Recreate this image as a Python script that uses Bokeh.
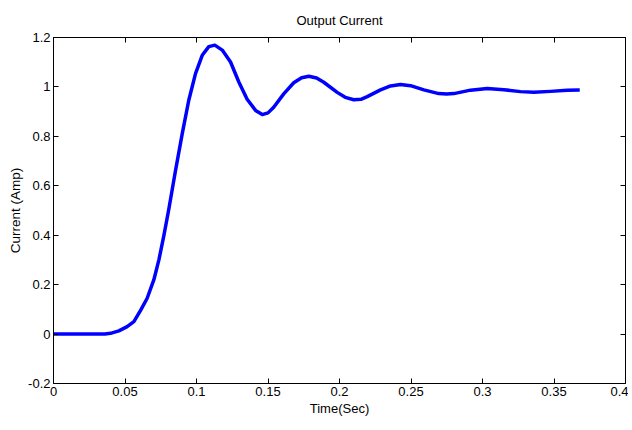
from bokeh.plotting import figure
from bokeh.layouts import row
from bokeh.models import LinearAxis, FixedTicker, Range1d, Spacer
from bokeh.embed import file_html
from bokeh.resources import INLINE

# Data
time_s = [0.0, 0.01, 0.02, 0.03, 0.036, 0.0399, 0.0457, 0.0515, 0.0562, 0.0608,
          0.0655, 0.0702, 0.0737, 0.0771, 0.0806, 0.0853, 0.090, 0.0946, 0.0993,
          0.104, 0.1086, 0.1128, 0.118, 0.1238, 0.1296, 0.1354, 0.1413, 0.146,
          0.150, 0.154, 0.161, 0.168, 0.1735, 0.1786, 0.184, 0.189, 0.1984, 0.204,
          0.210, 0.215, 0.2194, 0.2287, 0.2357, 0.2427, 0.2497, 0.259, 0.2694,
          0.275, 0.280, 0.2916, 0.3033, 0.3149, 0.3266, 0.3359, 0.3476, 0.3592,
          0.368]
current_a = [0.0, 0.0, 0.0, 0.0, 0.0, 0.003, 0.013, 0.030, 0.050, 0.095,
             0.145, 0.22, 0.30, 0.396, 0.504, 0.661, 0.81, 0.946, 1.054,
             1.128, 1.163, 1.169, 1.149, 1.101, 1.02, 0.95, 0.905, 0.888,
             0.895, 0.918, 0.972, 1.017, 1.037, 1.043, 1.036, 1.019, 0.978, 0.958,
             0.948, 0.950, 0.961, 0.988, 1.004, 1.010, 1.005, 0.988, 0.973,
             0.971, 0.973, 0.987, 0.994, 0.989, 0.981, 0.978, 0.982, 0.987,
             0.988]

x_ticks = [0, 0.05, 0.1, 0.15, 0.2, 0.25, 0.3, 0.35, 0.4]
x_tick_labels = ["0", "0.05", "0.1", "0.15", "0.2", "0.25", "0.3", "0.35", "0.4"]
y_ticks = [-0.2, 0, 0.2, 0.4, 0.6, 0.8, 1.0, 1.2]
y_tick_labels = ["-0.2", "0", "0.2", "0.4", "0.6", "0.8", "1", "1.2"]

FONT = "Liberation Sans"

fig = figure(frame_width=572, frame_height=346, output_backend="svg",
             toolbar_location=None,
             x_range=Range1d(0, 0.4), y_range=Range1d(-0.2, 1.2),
             x_axis_label="Time(Sec)", y_axis_label="Current (Amp)",
             min_border_left=0, min_border_right=3, min_border_top=30,
             min_border_bottom=38)

fig.title.text = "Output Current"
fig.title.align = "center"
fig.title.text_font = FONT
fig.title.text_font_size = "13px"
fig.title.text_font_style = "normal"
fig.title.text_color = "black"
fig.title.standoff = 20

fig.grid.visible = False
fig.outline_line_color = "black"
fig.background_fill_color = "white"
fig.border_fill_color = "white"

fig.line(time_s, current_a, line_color="#0000FF", line_width=3.5, line_join="round")

def style_axis(ax, ticks, labels):
    ax.ticker = FixedTicker(ticks=ticks)
    ax.major_label_overrides = {t: l for t, l in zip(ticks, labels)}
    ax.major_tick_in = 5
    ax.major_tick_out = 0
    ax.minor_tick_line_color = None
    ax.axis_line_color = "black"
    ax.major_tick_line_color = "black"
    ax.major_label_text_font = FONT
    ax.major_label_text_font_size = "13px"
    ax.major_label_text_color = "black"
    ax.major_label_standoff = 3

style_axis(fig.xaxis[0], x_ticks, x_tick_labels)
style_axis(fig.yaxis[0], y_ticks, y_tick_labels)
fig.xaxis[0].axis_label_text_font = FONT
fig.xaxis[0].axis_label_text_font_size = "13px"
fig.xaxis[0].axis_label_text_font_style = "normal"
fig.xaxis[0].axis_label_text_color = "black"
fig.xaxis[0].axis_label_standoff = 2
fig.yaxis[0].axis_label_text_font = FONT
fig.yaxis[0].axis_label_text_font_size = "13.5px"
fig.yaxis[0].axis_label_text_font_style = "normal"
fig.yaxis[0].axis_label_text_color = "black"
fig.yaxis[0].axis_label_standoff = 2

blank_x = [""] * len(x_ticks)
blank_y = [""] * len(y_ticks)
top = LinearAxis()
style_axis(top, x_ticks, blank_x)
top.major_label_standoff = 0
fig.add_layout(top, "above")
right = LinearAxis()
style_axis(right, y_ticks, blank_y)
right.major_label_standoff = 0
fig.add_layout(right, "right")

p = row(Spacer(width=5, height=10), fig)

open("out.html", "w").write(file_html(p, INLINE))
